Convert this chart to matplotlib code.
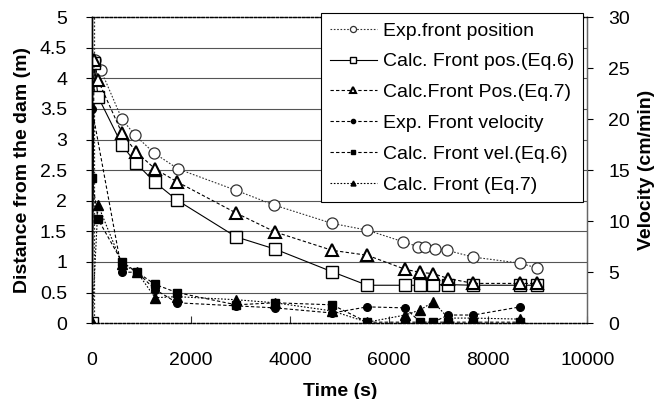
import matplotlib
matplotlib.use("Agg")
import matplotlib.pyplot as plt

plt.rcParams['font.family'] = ['Liberation Sans', 'DejaVu Sans']

# Front position (m)
t_exp_pos = [50, 180, 606, 870, 1253, 1737, 2909, 3677, 4848, 5556, 6283, 6586, 6727, 6929, 7171, 7697, 8646, 8990]
exp_pos = [4.3, 4.13, 3.33, 3.07, 2.78, 2.52, 2.17, 1.93, 1.63, 1.52, 1.33, 1.25, 1.24, 1.22, 1.19, 1.08, 0.98, 0.9]

t_calc_pos = [0, 40, 121, 606, 889, 1273, 1717, 2909, 3697, 4848, 5556, 6323, 6626, 6889, 7192, 7697, 8646, 8990]
calc_pos_eq6 = [0, 4.25, 3.7, 2.91, 2.61, 2.30, 2.01, 1.41, 1.21, 0.84, 0.62, 0.62, 0.62, 0.63, 0.63, 0.62, 0.62, 0.62]
calc_pos_eq7 = [0, 4.3, 3.97, 3.1, 2.8, 2.52, 2.31, 1.8, 1.49, 1.19, 1.11, 0.88, 0.83, 0.81, 0.73, 0.65, 0.65, 0.65]

# Front velocity (cm/min)
t_exp_vel = [0, 606, 909, 1273, 1717, 2909, 3697, 4848, 5556, 6323, 6626, 6889, 7192, 7697, 8646]
exp_vel = [21.0, 5.0, 5.0, 3.3, 2.0, 1.7, 1.5, 1.0, 1.6, 1.5, 0.1, 0.1, 0.8, 0.8, 1.6]

t_calc_vel = [0, 120, 606, 909, 1273, 1717, 2909, 3697, 4848, 5556, 6323, 6626, 6889, 7192, 7697, 8646]
calc_vel_eq6 = [14.2, 10.2, 6.0, 5.0, 3.8, 3.0, 1.8, 2.0, 1.8, 0.1, 0.1, 0.1, 0.1, 0.1, 0.1, 0.1]
calc_vel_eq7 = [0, 11.6, 5.8, 5.0, 2.5, 2.6, 2.3, 2.0, 1.2, 0.1, 0.8, 1.3, 2.1, 0.5, 0.5, 0.4]

x_ticks = [0, 2000, 4000, 6000, 8000, 10000]
left_ticks = [0, 0.5, 1, 1.5, 2, 2.5, 3, 3.5, 4, 4.5, 5]
left_ticklabels = ['0', '0.5', '1', '1.5', '2', '2.5', '3', '3.5', '4', '4.5', '5']
right_ticks = [0, 5, 10, 15, 20, 25, 30]

fig = plt.figure(figsize=(6.72, 3.99), dpi=100)
ax = fig.add_axes([0.137, 0.19, 0.737, 0.767])
ax2 = ax.twinx()

lw = 0.8
h1, = ax.plot(t_exp_pos, exp_pos, ls=(0, (1.5, 1.5)), color='#333333', lw=lw, marker='o', ms=8,
              mfc='white', mec='#333333', mew=0.9, label='Exp.front position')
h2, = ax.plot(t_calc_pos, calc_pos_eq6, ls='-', color='black', lw=lw, marker='s', ms=8,
              mfc='white', mec='black', mew=1.0, label='Calc. Front pos.(Eq.6)')
h3, = ax.plot(t_calc_pos, calc_pos_eq7, ls=(0, (3, 2)), color='black', lw=lw, marker='^', ms=9,
              mfc='white', mec='black', mew=1.5, label='Calc.Front Pos.(Eq.7)')
h4, = ax2.plot(t_exp_vel, exp_vel, ls=(0, (3, 2)), color='black', lw=lw, marker='o', ms=5.5,
               mfc='black', mec='black', label='Exp. Front velocity')
h5, = ax2.plot(t_calc_vel, calc_vel_eq6, ls=(0, (3, 2)), color='black', lw=lw, marker='s', ms=5.5,
               mfc='black', mec='black', label='Calc. Front vel.(Eq.6)')
h6, = ax2.plot(t_calc_vel, calc_vel_eq7, ls=(0, (1.5, 1.5)), color='black', lw=lw, marker='^', ms=6.5,
               mfc='black', mec='black', label='Calc. Front (Eq.7)')

ax.set_xlim(0, 10000)
ax.set_ylim(0, 5)
ax2.set_ylim(0, 30)
ax.set_xticks(x_ticks)
ax.set_xticklabels([str(v) for v in x_ticks])
ax.set_yticks(left_ticks)
ax.set_yticklabels(left_ticklabels)
ax2.set_yticks(right_ticks)
ax2.set_yticklabels([str(v) for v in right_ticks])

for y in left_ticks[1:-1]:
    ax.axhline(y, color='#555555', lw=0.8, zorder=0)

ax.tick_params(axis='x', labelsize=14, pad=21, length=5, direction='in', color='#333333')
ax.tick_params(axis='y', labelsize=14, pad=14, length=4, direction='out')
ax2.tick_params(axis='y', labelsize=14, pad=11, length=4, direction='out')

for a in (ax, ax2):
    a.spines['top'].set_linestyle((0, (2, 1.5)))
    a.spines['top'].set_linewidth(0.9)
    a.spines['bottom'].set_linestyle((0, (2, 1.5)))
    a.spines['bottom'].set_linewidth(0.9)
    a.spines['right'].set_color('#666666')
    a.spines['right'].set_linewidth(0.9)
    a.spines['left'].set_linewidth(1.0)
ax.axvline(40, color='#333333', ls=(0, (1.5, 1.5)), lw=0.9, zorder=0)

ax.set_xlabel('Time (s)', fontsize=14, fontweight='bold', labelpad=10)
ax.set_ylabel('Distance from the dam (m)', fontsize=14, fontweight='bold', labelpad=6)
ax2.set_ylabel('Velocity (cm/min)', fontsize=14, fontweight='bold', labelpad=6)

leg = ax2.legend(handles=[h1, h2, h3, h4, h5, h6], loc='upper right', bbox_to_anchor=(0.992, 1.013),
                 fontsize=14, frameon=True, fancybox=False, edgecolor='black', framealpha=1,
                 handlelength=2.4, handletextpad=0.35, labelspacing=0.68, borderpad=0.45,
                 borderaxespad=0, markerscale=0.55)
leg.get_frame().set_linewidth(0.8)

fig.savefig('out.png', dpi=100)
